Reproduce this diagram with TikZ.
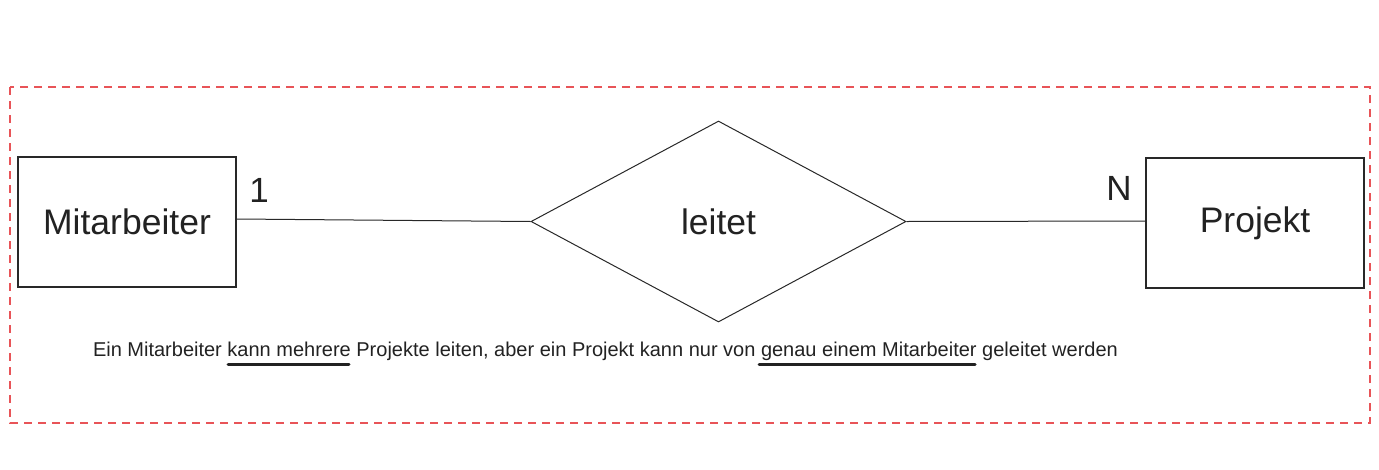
\documentclass[tikz,border=0pt]{standalone}
\usepackage{fontspec}
\setmainfont{Liberation Sans}
\usetikzlibrary{shapes.geometric}
\definecolor{dashred}{RGB}{232,84,88}
\definecolor{ink}{RGB}{34,34,34}
\definecolor{edge}{RGB}{40,40,40}
\tikzset{
  entity/.style={draw=edge, line width=1.3pt, minimum width=218pt, minimum height=130pt, inner sep=0pt, font=\fontsize{35.5}{40}\selectfont, text=ink},
  relation/.style={draw=edge, line width=1pt, diamond, minimum width=375pt, minimum height=201pt, inner sep=0pt, font=\fontsize{35.5}{40}\selectfont, text=ink},
  card/.style={font=\fontsize{35}{40}\selectfont, text=ink, inner sep=0pt},
  conn/.style={draw=edge, line width=1pt},
  frame/.style={draw=dashred, line width=1.4pt, dash pattern=on 8pt off 6pt},
  note/.style={font=\fontsize{20}{24}\selectfont, text=ink, inner sep=0pt},
  uline/.style={draw=ink, line width=3pt, line cap=round}
}
\begin{document}
\begin{tikzpicture}[x=1pt,y=-1pt]
\useasboundingbox (0,0) rectangle (1379,469);
\draw[frame] (10,87) rectangle (1370,423);
\node[entity] (M) at (127,222) {Mitarbeiter};
\node[entity] (P) at (1255,223) {Projekt};
\node[relation] (R) at (718.5,221.5) {leitet};
\draw[conn] ([yshift=3pt]M.east) -- (R.west);
\draw[conn] (R.east) -- ([yshift=2pt]P.west);
\node[card] (c1) at (259,190) {1};
\node[card] (cN) at (1119,188) {N};
\node[note] (T) at (605.5,351) {Ein Mitarbeiter kann mehrere Projekte leiten, aber ein Projekt kann nur von genau einem Mitarbeiter geleitet werden};
\draw[uline] (228,364) -- (349,364);
\draw[uline] (759,364) -- (975,364);
\end{tikzpicture}
\end{document}
